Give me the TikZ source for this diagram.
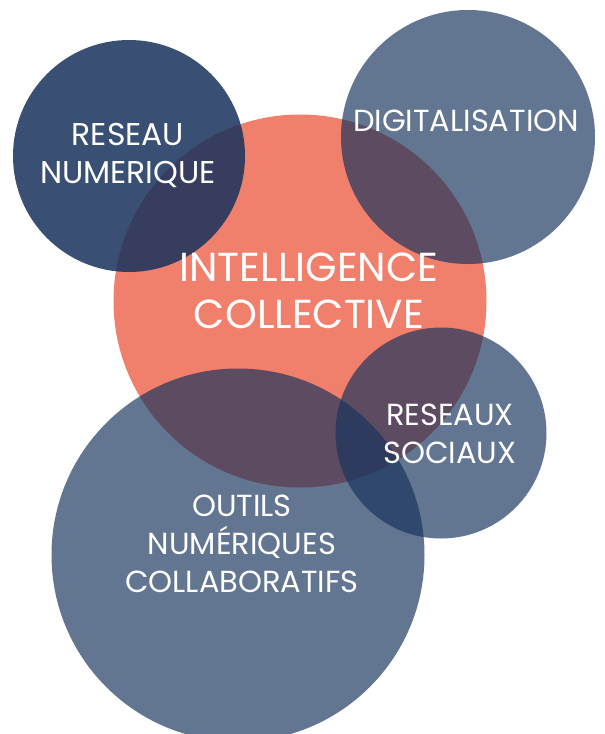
\documentclass[tikz,border=0pt]{standalone}
\usepackage{fontspec}
\setmainfont{Poppins}
\definecolor{salmon}{RGB}{240,127,108}
\definecolor{navy}{RGB}{24,51,93}
\begin{document}
\begin{tikzpicture}[x=1pt,y=-1pt,
  blob/.style={circle,fill=navy,fill opacity=0.68,draw=none,inner sep=0pt,minimum size=#1},
  darkblob/.style={circle,fill=navy,fill opacity=0.86,draw=none,inner sep=0pt,minimum size=#1},
  lbl/.style={text=white,align=center,font=\fontsize{30.5}{38}\selectfont,inner sep=0pt},
  biglbl/.style={text=white,align=center,font=\fontsize{40.5}{47}\selectfont,inner sep=0pt}]
\useasboundingbox (0,0) rectangle (605,734);
\node[circle,fill=salmon,inner sep=0pt,minimum size=373pt] (ic) at (300,301) {};
\node[darkblob=232pt] (rn) at (129,156) {};
\node[blob=254pt] (dg) at (468,137) {};
\node[blob=211pt] (rs) at (441,433) {};
\node[blob=373pt] (on) at (238,555) {};
\node[lbl,font=\fontsize{31.5}{38}\selectfont] (trn) at (128,155) {RESEAU\\NUMERIQUE};
\node[lbl] (tdg) at (466,121) {DIGITALISATION};
\node[biglbl] (tic) at (309,291) {INTELLIGENCE\\COLLECTIVE};
\node[lbl] (trs) at (450,434) {RESEAUX\\SOCIAUX};
\node[lbl] (ton) at (242,544) {OUTILS\\NUMÉRIQUES\\COLLABORATIFS};
\end{tikzpicture}
\end{document}
